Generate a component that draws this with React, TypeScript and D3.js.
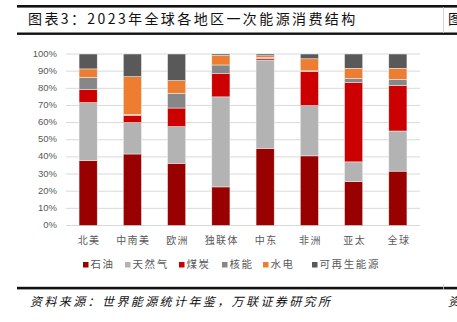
import React from "react";
import * as d3 from "d3";

const regions = ["北美", "中南美", "欧洲", "独联体", "中东", "非洲", "亚太", "全球"];
const seriesNames = ["石油", "天然气", "煤炭", "核能", "水电", "可再生能源"];
const oil = [37.9, 41.7, 36.3, 22.5, 45.0, 40.6, 25.6, 31.7];
const gas = [33.8, 18.3, 21.4, 52.5, 51.5, 29.3, 11.5, 23.4];
const coal = [7.7, 4.3, 10.8, 13.5, 1.0, 19.8, 46.4, 26.5];
const nuclear = [7.0, 0.5, 8.6, 5.1, 0.5, 0.5, 2.3, 3.6];
const hydro = [4.9, 22.0, 7.4, 5.6, 1.0, 7.0, 5.9, 6.5];
const renewable = [8.7, 13.2, 15.5, 0.8, 1.0, 2.8, 8.3, 8.3];
const yTicks = [0, 10, 20, 30, 40, 50, 60, 70, 80, 90, 100];
const colors = ["#990000", "#b3b3b3", "#cc0000", "#878787", "#ed7d31", "#595959"];
const legendX = [83, 125, 179, 222, 263, 312];

const W = 457;
const H = 322;
const cjk = "'Noto Sans CJK SC', sans-serif";

export default function App() {
  const rows = regions.map((r, i) => ({
    region: r,
    s0: oil[i],
    s1: gas[i],
    s2: coal[i],
    s3: nuclear[i],
    s4: hydro[i],
    s5: renewable[i],
  }));
  const keys = ["s0", "s1", "s2", "s3", "s4", "s5"];
  const stack = d3.stack<any>().keys(keys)(rows);

  const x = d3.scaleBand().domain(regions).range([66, 420]).paddingInner(0.59).paddingOuter(0.295);
  const y = d3.scaleLinear().domain([0, 100]).range([225.5, 54]);

  return (
    <svg
      width={W}
      height={H}
      style={{ position: "absolute", left: 0, top: 0, display: "block", background: "#fff" }}
    >
      {/* title bar */}
      <rect x={17} y={5} width={W - 17} height={2.6} fill="#111" />
      <rect x={17} y={32.5} width={W - 17} height={2.4} fill="#111" />
      <line x1={443.5} x2={443.5} y1={7} y2={33} stroke="#ccc" strokeWidth={0.8} />
      <text
        x={28}
        y={20}
        dominantBaseline="middle"
        fontFamily={cjk}
        fontSize={14}
        letterSpacing={2.4}
        fill="#111"
      >
        图表3：2023年全球各地区一次能源消费结构
      </text>
      <text x={448} y={20} dominantBaseline="middle" fontFamily={cjk} fontSize={14} fill="#111">
        图
      </text>

      {/* grid */}
      {yTicks.map((t) => (
        <g key={t}>
          <line x1={66} x2={420} y1={y(t)} y2={y(t)} stroke="#d9d9d9" strokeWidth={1} />
          <text
            x={57}
            y={y(t)}
            textAnchor="end"
            dominantBaseline="middle"
            fontFamily="'Liberation Sans', Arial, sans-serif"
            fontSize={9.5}
            fill="#595959"
          >
            {t}%
          </text>
        </g>
      ))}

      {/* bars */}
      {stack.map((layer, li) => (
        <g key={li} fill={colors[li]}>
          {layer.map((d: any, i: number) => (
            <rect
              key={i}
              x={x(regions[i])}
              width={x.bandwidth()}
              y={y(d[1])}
              height={Math.max(0, y(d[0]) - y(d[1]))}
              stroke="#f2f2f2"
              strokeWidth={0.5}
            />
          ))}
        </g>
      ))}

      {/* x labels */}
      {regions.map((r) => (
        <text
          key={r}
          x={(x(r) as number) + x.bandwidth() / 2 + 1}
          y={241}
          textAnchor="middle"
          dominantBaseline="middle"
          fontFamily={cjk}
          fontSize={10}
          letterSpacing={1.5}
          fill="#595959"
        >
          {r}
        </text>
      ))}

      {/* legend */}
      {seriesNames.map((n, i) => (
        <g key={n}>
          <rect x={legendX[i]} y={262} width={5.5} height={5.5} fill={colors[i]} />
          <text
            x={legendX[i] + 7.5}
            y={265}
            dominantBaseline="middle"
            fontFamily={cjk}
            fontSize={10.5}
            letterSpacing={1.6}
            fill="#595959"
          >
            {n}
          </text>
        </g>
      ))}

      {/* source */}
      <rect x={17} y={286.8} width={W - 17} height={2.6} fill="#111" />
      <line x1={443.5} x2={443.5} y1={284} y2={290} stroke="#ccc" strokeWidth={0.8} />
      <text
        x={30}
        y={303}
        dominantBaseline="middle"
        fontFamily={cjk}
        fontSize={12}
        fontStyle="italic"
        letterSpacing={2.4}
        fill="#111"
      >
        资料来源：世界能源统计年鉴，万联证券研究所
      </text>
      <text x={448} y={303} dominantBaseline="middle" fontFamily={cjk} fontSize={12} fontStyle="italic" fill="#111">
        资
      </text>
    </svg>
  );
}
